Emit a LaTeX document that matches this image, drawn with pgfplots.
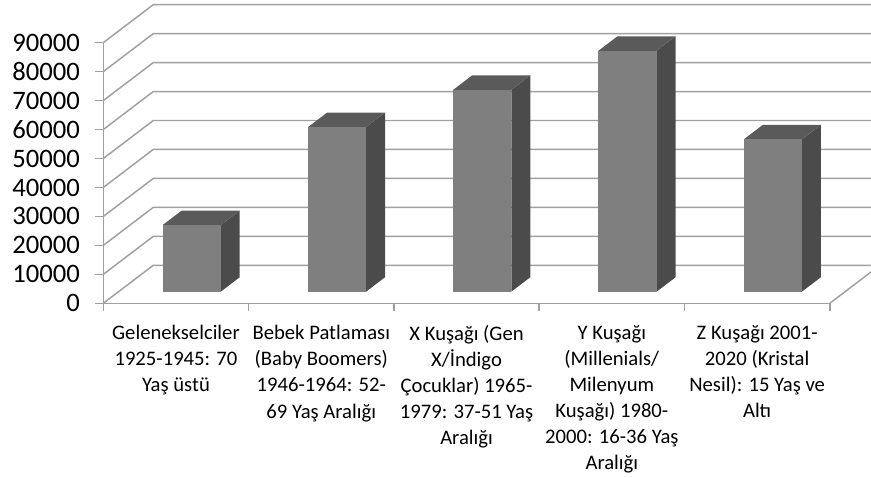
\documentclass[border=0pt]{standalone}
\usepackage{pgfplots}
\pgfplotsset{compat=1.18}
\usepackage{pgfplotstable}
\usepackage{fontspec}
\setmainfont{Carlito}
\definecolor{gridc}{HTML}{A0A0A0}
\definecolor{frontf}{HTML}{7F7F7F}
\definecolor{topf}{HTML}{5A5A5A}
\definecolor{sidef}{HTML}{4B4B4B}

\pgfplotstableread{
idx value
0 23000
1 56800
2 69700
3 83200
4 52600
}\datatable

\newcommand\fpuon{\pgfkeys{/pgf/fpu=true,/pgf/fpu/output format=fixed}}
\newcommand\fpuoff{\pgfkeys{/pgf/fpu=false}}

\begin{document}
\begin{tikzpicture}
\begin{axis}[
  scale only axis,
  width=544.9pt, height=195.5pt,
  xmin=0, xmax=5, ymin=0, ymax=90000,
  clip=false,
  no markers,
  axis x line*=bottom, axis y line*=left,
  axis line style={draw=gridc, line width=1.1pt},
  tick style={draw=gridc, line width=1.1pt},
  tick align=outside,
  major tick length=6pt,
  ytick={0,10000,...,90000},
  scaled y ticks=false,
  /pgf/number format/.cd, 1000 sep={}, assume math mode=true,
  /pgfplots/.cd,
  yticklabel style={font=\fontsize{20}{24}\selectfont, black, xshift=-8pt},
  xtick={0,1,2,3,4,5},
  xticklabels={,,,,,},
  extra x ticks={0.5,1.5,2.5,3.5,4.5},
  extra x tick labels={
    {Gelenekselciler\\1925-1945: 70\\Yaş üstü},
    {Bebek Patlaması\\(Baby Boomers)\\1946-1964: 52-\\69 Yaş Aralığı},
    {X Kuşağı (Gen\\X/İndigo\\Çocuklar) 1965-\\1979: 37-51 Yaş\\Aralığı},
    {Y Kuşağı\\(Millenials/\\Milenyum\\Kuşağı) 1980-\\2000: 16-36 Yaş\\Aralığı},
    {Z Kuşağı 2001-\\2020 (Kristal\\Nesil): 15 Yaş ve\\Altı}},
  extra x tick style={major tick length=0pt,
    xticklabel style={align=center, anchor=north, black,
      font=\fontsize{15.5}{19.6}\selectfont, yshift=-13pt}},
]
% back wall and floor gridlines
\pgfplotsinvokeforeach{0,...,9}{
  \fpuon
  \pgfmathparse{#1*10000}\edef\ya{\pgfmathresult}
  \pgfmathparse{#1*10000+13122}\edef\yb{\pgfmathresult}
  \fpuoff
  \addplot[gridc, line width=1.1pt] coordinates {(0,\ya) (0.344,\yb) (5.4,\yb)};
}
\addplot[gridc, line width=1.1pt] coordinates {(5,0) (5.344,13122)};
% 3D bars
\pgfplotsinvokeforeach{0,...,4}{
  \pgfplotstablegetelem{#1}{value}\of\datatable
  \edef\val{\pgfplotsretval}
  \fpuon
  \pgfmathparse{#1+0.5-0.2+0.108}\edef\xl{\pgfmathresult}
  \pgfmathparse{#1+0.5+0.2+0.108}\edef\xr{\pgfmathresult}
  \pgfmathparse{#1+0.5-0.2+0.108+0.131}\edef\xlb{\pgfmathresult}
  \pgfmathparse{#1+0.5+0.2+0.108+0.131}\edef\xrb{\pgfmathresult}
  \pgfmathparse{\val+4005}\edef\yt{\pgfmathresult}
  \pgfmathparse{\val+4005+5007}\edef\ytb{\pgfmathresult}
  \fpuoff
  \addplot[fill=sidef, draw=none] coordinates {(\xr,4005) (\xrb,9012) (\xrb,\ytb) (\xr,\yt)};
  \addplot[fill=topf, draw=none] coordinates {(\xl,\yt) (\xr,\yt) (\xrb,\ytb) (\xlb,\ytb)};
  \addplot[fill=frontf, draw=none] coordinates {(\xl,4005) (\xr,4005) (\xr,\yt) (\xl,\yt)};
}
\coordinate (bbBL) at (axis cs:-0.711,-60325);
\coordinate (bbTR) at (axis cs:5.2836,104731);
\end{axis}
\pgfresetboundingbox
\useasboundingbox (bbBL) rectangle (bbTR);
\end{tikzpicture}
\end{document}
